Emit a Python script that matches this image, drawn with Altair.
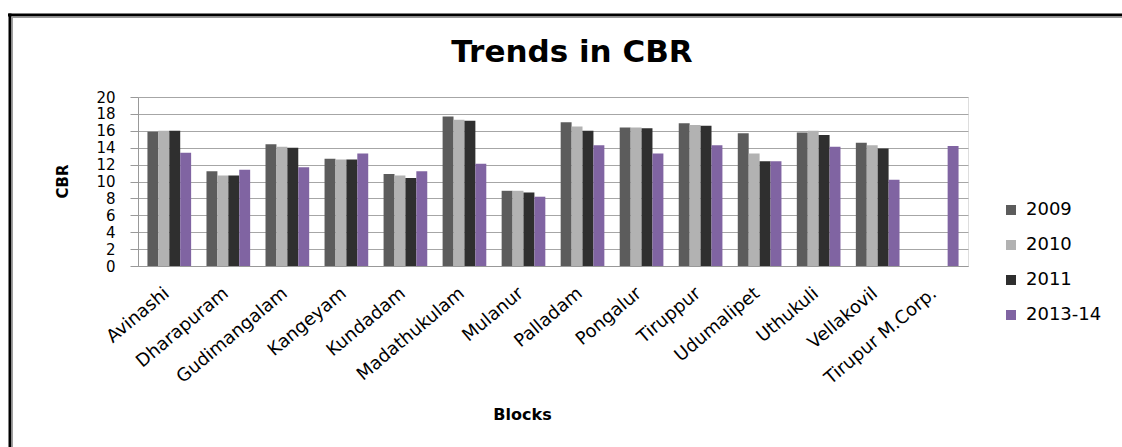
import altair as alt
import pandas as pd

blocks = ["Avinashi", "Dharapuram", "Gudimangalam", "Kangeyam", "Kundadam",
          "Madathukulam", "Mulanur", "Palladam", "Pongalur", "Tiruppur",
          "Udumalipet", "Uthukuli", "Vellakovil", "Tirupur M.Corp."]
series = ["2009", "2010", "2011", "2013-14"]
v2009 = [15.9, 11.2, 14.4, 12.7, 10.9, 17.7, 8.9, 17.0, 16.4, 16.9, 15.7, 15.8, 14.6, None]
v2010 = [16.0, 10.7, 14.1, 12.6, 10.7, 17.3, 8.9, 16.5, 16.4, 16.7, 13.3, 16.0, 14.3, None]
v2011 = [16.0, 10.7, 14.0, 12.6, 10.4, 17.2, 8.7, 16.0, 16.3, 16.6, 12.4, 15.5, 13.9, None]
v2013 = [13.4, 11.4, 11.7, 13.3, 11.2, 12.1, 8.2, 14.3, 13.3, 14.3, 12.4, 14.1, 10.2, 14.2]
colors = ["#5c5c5c", "#b2b2b2", "#2f2f2f", "#8064A2"]
y_ticks = [0, 2, 4, 6, 8, 10, 12, 14, 16, 18, 20]
title_text = "Trends in CBR"

rows = []
for s, vals in zip(series, [v2009, v2010, v2011, v2013]):
    for b, v in zip(blocks, vals):
        if v is not None:
            rows.append({"Block": b, "Year": s, "CBR": v})
df = pd.DataFrame(rows)

FONT = "DejaVu Sans"

bars = alt.Chart(df).mark_bar().encode(
    x=alt.X("Block:N", sort=blocks,
            scale=alt.Scale(paddingInner=0.26, paddingOuter=0.16),
            axis=alt.Axis(title="Blocks", labelAngle=-40, labelFontSize=18,
                          labelFont=FONT, labelColor="#000", labelPadding=18,
                          labelOffset=-8,
                          ticks=False, domainColor="#999999",
                          titleFont=FONT, titleFontSize=16, titleFontWeight="bold",
                          titleX=384, titleY=148, titleAlign="center",
                          titleBaseline="middle", titleColor="#000")),
    xOffset=alt.XOffset("Year:N", sort=series, scale=alt.Scale(paddingInner=0, paddingOuter=0)),
    y=alt.Y("CBR:Q", scale=alt.Scale(domain=[0, 20], nice=False),
            axis=alt.Axis(title="CBR", values=y_ticks, labelOverlap=False,
                          labelFont=FONT, labelFontSize=15, labelColor="#000",
                          labelPadding=15, tickSize=8, tickColor="#999999",
                          domainColor="#999999", gridColor="#a6a6a6",
                          titleFont=FONT, titleFontSize=15, titleFontWeight="bold",
                          titleX=-76, titleY=84, titleAlign="center",
                          titleBaseline="middle", titleColor="#000")),
    color=alt.Color("Year:N", sort=series,
                    scale=alt.Scale(domain=series, range=colors),
                    legend=alt.Legend(title=None, orient="none", legendX=864, legendY=104,
                                      symbolType="square", symbolSize=100,
                                      symbolStrokeWidth=0, labelFont=FONT,
                                      labelFontSize=18, labelColor="#000",
                                      labelOffset=6, rowPadding=17, padding=0)),
)

frame = alt.Chart(alt.Data(values=[{"t": title_text}]))
title = frame.mark_text(font=FONT, fontSize=31, fontWeight="bold", color="#000",
                        align="center", baseline="middle").encode(
    text="t:N", x=alt.value(434), y=alt.value(-44))
top_black = frame.mark_rule(color="#000", strokeWidth=3).encode(
    x=alt.value(-130), x2=alt.value(984), y=alt.value(-82))
left_black = frame.mark_rule(color="#000", strokeWidth=3).encode(
    x=alt.value(-128), y=alt.value(-83.5), y2=alt.value(350))
top_gray = frame.mark_rule(color="#9a9a9a", strokeWidth=1.5).encode(
    x=alt.value(-126.5), x2=alt.value(984), y=alt.value(-79.8))
left_gray = frame.mark_rule(color="#9a9a9a", strokeWidth=1.5).encode(
    x=alt.value(-125.8), y=alt.value(-80.5), y2=alt.value(350))

chart = alt.layer(bars, title, top_black, left_black, top_gray, left_gray).properties(
    width=830, height=169,
    autosize=alt.AutoSizeParams(type="none"),
    padding={"left": 138, "top": 97, "right": 154, "bottom": 181},
).configure_view(stroke=None).configure(background="white")

chart.save("out.html", embed_options={"renderer": "svg", "actions": False})
